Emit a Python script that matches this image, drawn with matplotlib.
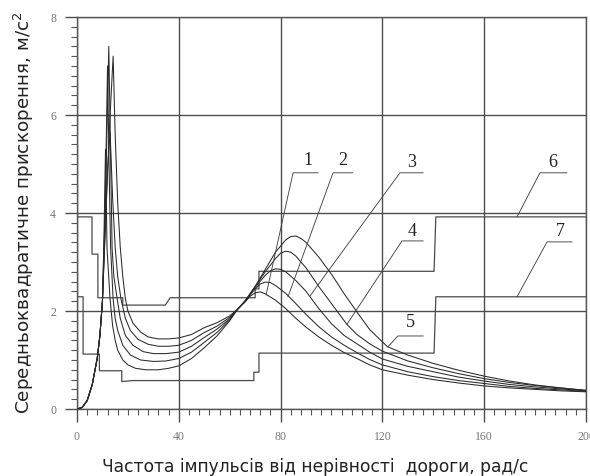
import matplotlib.pyplot as plt
import matplotlib.ticker as mticker

# Криві 1-5: середньоквадратичне прискорення
x1 = [0, 2, 4, 6, 8, 9, 10, 11, 12, 13, 14.2, 15, 16, 17, 18, 19, 20, 22, 25, 28, 32, 36, 40, 45, 50,
      55, 60, 63, 66, 68, 70, 72, 74, 78, 82, 86, 90, 95, 100, 105, 110, 115, 120, 130, 140, 150, 160,
      170, 180, 190, 200]
y1 = [0, 0.03, 0.17, 0.5, 1.05, 1.5, 2.2, 3.5, 4.8, 6.0, 7.2, 5.6, 4.2, 3.3, 2.7, 2.25, 2.0, 1.75, 1.57,
      1.47, 1.43, 1.43, 1.45, 1.52, 1.66, 1.76, 1.9, 2.03, 2.18, 2.3, 2.37, 2.39, 2.35, 2.22, 2.05, 1.85,
      1.67, 1.47, 1.3, 1.15, 1.03, 0.9, 0.8, 0.69, 0.6, 0.53, 0.47, 0.43, 0.4, 0.37, 0.35]

x2 = [0, 2, 4, 6, 8, 9, 10, 11, 12, 13, 14, 15, 16, 17.3, 19, 21, 24, 28, 32, 36, 40, 45, 50, 55, 60,
      63, 66, 70, 72, 74, 76, 78, 82, 86, 90, 95, 100, 105, 110, 115, 120, 130, 140, 150, 160, 170, 180,
      190, 200]
y2 = [0, 0.03, 0.17, 0.5, 1.05, 1.5, 2.2, 3.6, 4.9, 5.65, 4.3, 3.3, 2.7, 2.24, 1.85, 1.6, 1.42, 1.32,
      1.28, 1.28, 1.3, 1.4, 1.56, 1.69, 1.87, 2.03, 2.2, 2.45, 2.55, 2.59, 2.58, 2.52, 2.36, 2.15, 1.93,
      1.68, 1.47, 1.3, 1.15, 1.01, 0.9, 0.76, 0.66, 0.58, 0.52, 0.46, 0.42, 0.39, 0.36]

x3 = [0, 2, 4, 6, 8, 9, 10, 11, 12, 12.5, 13, 13.8, 14.5, 15.8, 17, 19, 22, 26, 30, 35, 40, 45, 50, 55,
      60, 63, 66, 70, 74, 76, 78, 80, 82, 86, 90, 95, 100, 105, 110, 115, 120, 130, 140, 150, 160, 170,
      180, 190, 200]
y3 = [0, 0.03, 0.17, 0.5, 1.05, 1.5, 2.2, 3.8, 6.2, 7.4, 5.8, 3.27, 2.7, 2.24, 1.85, 1.5, 1.3, 1.17,
      1.13, 1.13, 1.16, 1.28, 1.46, 1.63, 1.84, 2.03, 2.2, 2.48, 2.73, 2.82, 2.86, 2.85, 2.8, 2.62, 2.4,
      2.05, 1.74, 1.5, 1.33, 1.16, 1.02, 0.87, 0.76, 0.65, 0.57, 0.5, 0.45, 0.41, 0.37]

x4 = [0, 2, 4, 6, 8, 9, 10, 11, 12, 12.6, 13.2, 14.2, 15, 16, 18, 21, 25, 30, 35, 40, 45, 50, 55, 60,
      63, 66, 70, 74, 78, 80, 82, 84, 86, 90, 95, 100, 106, 110, 115, 120, 130, 140, 150, 160, 170, 180,
      190, 200]
y4 = [0, 0.03, 0.17, 0.5, 1.05, 1.5, 2.2, 4.0, 7.0, 5.0, 3.3, 2.24, 1.85, 1.6, 1.3, 1.1, 1.0, 0.97,
      0.98, 1.03, 1.16, 1.36, 1.56, 1.82, 2.03, 2.2, 2.5, 2.8, 3.07, 3.18, 3.22, 3.2, 3.12, 2.88, 2.5,
      2.15, 1.73, 1.52, 1.33, 1.18, 0.98, 0.84, 0.72, 0.62, 0.54, 0.48, 0.43, 0.38]

x5 = [0, 2, 4, 6, 8, 9, 10, 10.6, 11.2, 11.8, 13, 14, 15, 16, 18, 20, 23, 27, 32, 36, 40, 45, 50, 55,
      60, 63, 66, 70, 74, 78, 82, 84, 86, 88, 90, 95, 100, 105, 110, 115, 122, 130, 140, 150, 160, 170,
      180, 190, 200]
y5 = [0, 0.03, 0.17, 0.5, 1.05, 1.5, 2.2, 3.5, 5.3, 3.27, 2.24, 1.7, 1.4, 1.2, 1.0, 0.9, 0.83, 0.8,
      0.8, 0.83, 0.88, 1.03, 1.25, 1.49, 1.8, 2.03, 2.2, 2.5, 2.85, 3.2, 3.45, 3.52, 3.53, 3.48, 3.4,
      3.1, 2.75, 2.35, 1.98, 1.62, 1.27, 1.1, 0.93, 0.79, 0.67, 0.57, 0.49, 0.43, 0.38]

# Ступінчасті лінії 6 і 7
x6 = [0, 5.9, 5.9, 8.2, 8.2, 18, 18, 34.7, 36.6, 70, 70, 71.5, 71.5, 140.3, 141, 200]
y6 = [3.92, 3.92, 3.16, 3.16, 2.27, 2.27, 2.12, 2.12, 2.27, 2.27, 2.45, 2.45, 2.81, 2.81, 3.92, 3.92]

x7 = [0, 2.4, 2.4, 8.8, 8.8, 17.6, 17.6, 22, 69.5, 69.5, 71.5, 71.5, 140.3, 141, 200]
y7 = [2.29, 2.29, 1.12, 1.12, 0.78, 0.78, 0.56, 0.58, 0.58, 0.75, 0.75, 1.14, 1.14, 2.29, 2.29]

curves = [(x1, y1), (x2, y2), (x3, y3), (x4, y4), (x5, y5)]

# Позначки: текст, позиція номера, горизонтальна полиця, кінець виноски
callouts = [
    ("1", (90.8, 5.10), (84.9, 94.7, 4.82), (74.3, 2.33)),
    ("2", (104.5, 5.10), (100.6, 108.4, 4.82), (82.9, 2.29)),
    ("3", (131.6, 5.06), (126.9, 136.0, 4.82), (91.6, 2.31)),
    ("4", (131.6, 3.65), (127.7, 136.0, 3.43), (106.1, 1.73)),
    ("5", (130.8, 1.78), (126.1, 136.0, 1.49), (122.2, 1.27)),
    ("6", (187.0, 5.06), (181.9, 192.5, 4.82), (172.9, 3.92)),
    ("7", (189.8, 3.65), (184.7, 194.5, 3.41), (172.9, 2.29)),
]

fig = plt.figure(figsize=(5.9, 4.77), dpi=100)
ax = fig.add_axes([0.1305, 0.1405, 0.8627, 0.8218])

for xs, ys in curves:
    ax.plot(xs, ys, color='#2a2a2a', lw=0.75, zorder=3)
ax.plot(x6, y6, color='#4a4a4a', lw=0.9, zorder=2)
ax.plot(x7, y7, color='#4a4a4a', lw=0.9, zorder=2)

for lab, (tx, ty), (hx0, hx1, hy), (ex, ey) in callouts:
    ax.plot([hx1, hx0, ex], [hy, hy, ey], color='#444444', lw=0.65, zorder=4)
    ax.text(tx, ty, lab, ha='center', va='center', fontsize=13,
            family='Liberation Serif', color='#222222', zorder=5)

ax.set_xlim(0, 200)
ax.set_ylim(0, 8)
ax.xaxis.set_major_locator(mticker.MultipleLocator(40))
ax.xaxis.set_minor_locator(mticker.MultipleLocator(4))
ax.yaxis.set_major_locator(mticker.MultipleLocator(2))
ax.yaxis.set_minor_locator(mticker.MultipleLocator(0.2))
ax.grid(True, which='major', color='#4d4d4d', lw=1.0, zorder=1)

ax.tick_params(which='major', direction='out', length=9, width=1.0, color='#4d4d4d',
               labelsize=8.5, labelcolor='#777777', pad=6)
ax.tick_params(which='minor', direction='out', length=4, width=0.8, color='#555555')
for lbl in ax.get_xticklabels() + ax.get_yticklabels():
    lbl.set_family('Liberation Serif')

for side in ['left', 'bottom', 'top', 'right']:
    ax.spines[side].set_color('#555555')
    ax.spines[side].set_linewidth(1.0)

fig.text(0.534, 0.021, "Частота імпульсів від нерівності  дороги, рад/с",
         ha='center', va='center', fontsize=12.3, color='#222222')
fig.text(0.041, 0.553, "Середньоквадратичне прискорення, м/с$^2$",
         ha='center', va='center', rotation=90, fontsize=13.2, color='#222222')

fig.savefig("out.png", dpi=100)
